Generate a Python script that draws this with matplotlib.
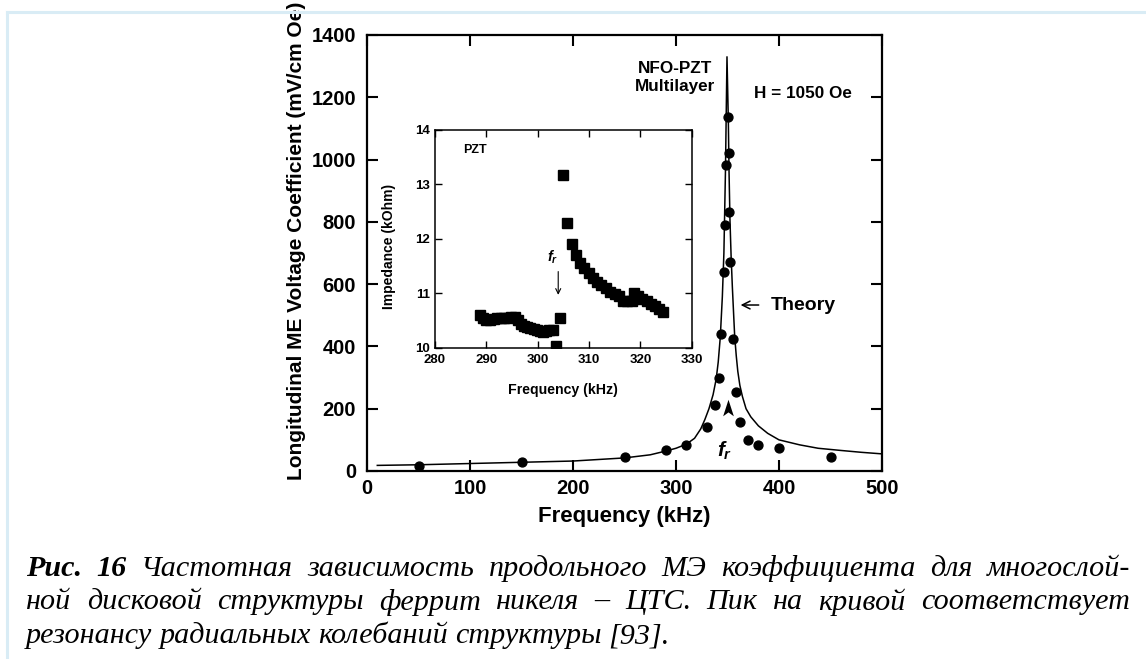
import matplotlib
matplotlib.use("Agg")
import matplotlib.pyplot as plt
from matplotlib.lines import Line2D
from matplotlib.path import Path

plt.rcParams["font.family"] = ["Liberation Sans", "DejaVu Sans"]
plt.rcParams["font.weight"] = "bold"
plt.rcParams["mathtext.fontset"] = "custom"
plt.rcParams["mathtext.it"] = "Liberation Sans:italic"
plt.rcParams["mathtext.rm"] = "Liberation Sans"

# ---- measured ME voltage coefficient (NFO-PZT multilayer, H = 1050 Oe) ----
meas_freq = [50, 150, 250, 290, 310, 330, 338, 341.6, 343.5, 346.8, 348, 349,
             350.3, 351, 351.6, 352.6, 355.2, 357.8, 362, 369.8, 379.5, 400, 450]
meas_me = [17, 30, 46, 66, 82, 140, 211, 300, 440, 639, 790, 983,
           1138, 1020, 832, 671, 424, 255, 157, 100, 82, 75, 46]

# ---- theoretical curve ----
theory_freq = [10, 50, 100, 150, 200, 250, 275, 290, 300, 310, 318, 324, 328,
               332, 336, 339, 341, 343, 345, 346.5, 348, 349.5, 350.8, 351.5,
               352.4, 353.5, 354.7, 356, 357, 358.5, 360, 362, 364.5, 368,
               372.6, 380, 389, 400, 420, 438, 460, 480, 500]
theory_me = [18, 20, 24, 28, 32, 42, 52, 64, 73, 86, 105, 135, 165,
             200, 245, 295, 350, 430, 560, 700, 960, 1330, 1127, 960,
             806, 690, 592, 500, 431, 370, 320, 275, 239, 200,
             174, 145, 121, 100, 84, 73, 66, 60, 55]

# ---- PZT impedance (inset) ----
pzt_freq = [288.8, 289.4, 290.0, 290.7, 291.4, 292.1, 292.8, 293.5, 294.2,
            294.9, 295.5, 296.1, 296.7, 297.3, 297.9, 298.6, 299.2, 299.8,
            300.4, 301.1, 301.7, 302.3, 303.0, 303.6, 304.3,
            305.0, 305.8, 306.6, 307.4, 308.2, 309.0, 309.9, 310.7, 311.6,
            312.4, 313.3, 314.1, 315.0, 315.8, 316.6, 317.4, 318.3, 318.8,
            319.6, 320.4, 321.2, 322.0, 322.8, 323.6, 324.5]
pzt_imp = [10.61, 10.55, 10.51, 10.51, 10.53, 10.54, 10.54, 10.55, 10.54,
           10.56, 10.57, 10.51, 10.44, 10.40, 10.38, 10.36, 10.34, 10.32,
           10.31, 10.28, 10.31, 10.33, 10.32, 10.03, 10.54,
           13.17, 12.30, 11.91, 11.70, 11.56, 11.46, 11.37, 11.28, 11.21,
           11.15, 11.09, 11.03, 10.98, 10.95, 10.86, 10.86, 10.86, 11.00,
           10.95, 10.89, 10.85, 10.80, 10.76, 10.72, 10.66]

main_xticks = [0, 100, 200, 300, 400, 500]
main_yticks = [0, 200, 400, 600, 800, 1000, 1200, 1400]
inset_xticks = [280, 290, 300, 310, 320, 330]
inset_yticks = [10, 11, 12, 13, 14]

caption_lines = [
    "Рис. 16 Частотная зависимость продольного МЭ коэффициента для многослой-",
    "ной  дисковой структуры феррит никеля – ЦТС. Пик на кривой соответствует",
    "резонансу радиальных колебаний структуры [93].",
]

W, H = 1146, 659
fig = plt.figure(figsize=(W / 100, H / 100), dpi=100)
fig.patch.set_facecolor("white")


def fx(px):
    return px / W


def fy(py):
    return 1 - py / H


# page frame lines
frame_col = "#d9ecf5"
fig.add_artist(Line2D([fx(7), fx(W)], [fy(12), fy(12)], color=frame_col, lw=2.2))
fig.add_artist(Line2D([fx(7), fx(7)], [fy(12), fy(H)], color=frame_col, lw=2.2))

# ---- main axes ----
ax = fig.add_axes([fx(367), fy(471), (882 - 367) / W, (471 - 35) / H])
ax.plot(theory_freq, theory_me, color="black", lw=1.1, zorder=2)
ax.plot(meas_freq, meas_me, "o", color="black", ms=6.4, zorder=3)
ax.set_xlim(0, 500)
ax.set_ylim(0, 1400)
ax.set_xticks(main_xticks)
ax.set_yticks(main_yticks)
ax.tick_params(direction="in", length=8, width=1.5, top=True, right=True,
               labelsize=14.5)
ax.tick_params(axis="y", pad=8)
ax.tick_params(axis="x", pad=6)
for s in ax.spines.values():
    s.set_linewidth(1.6)
ax.set_xlabel("Frequency (kHz)", fontsize=16, fontweight="bold")
ax.xaxis.set_label_coords(0.5, -0.08)
ax.set_ylabel("Longitudinal ME Voltage Coefficient (mV/cm Oe)", fontsize=15,
              fontweight="bold")
ax.yaxis.set_label_coords(-0.118, 0.528)

ax.text(299, 1265, "NFO-PZT\nMultilayer", ha="center", va="center",
        fontsize=12.3, fontweight="bold", linespacing=1.25)
ax.text(376, 1212, "H = 1050 Oe", ha="left", va="center", fontsize=12.3,
        fontweight="bold")
ax.annotate("", xy=(360, 533), xytext=(383, 533),
            arrowprops=dict(arrowstyle="->", lw=1.1, color="black",
                            mutation_scale=14))
ax.text(392, 533, "Theory", ha="left", va="center", fontsize=14,
        fontweight="bold")

# resonance marker: notched arrowhead pointing up
head = Path([(0, 1), (-0.55, -0.7), (0, -0.3), (0.55, -0.7), (0, 1)],
            [Path.MOVETO, Path.LINETO, Path.LINETO, Path.LINETO, Path.CLOSEPOLY])
ax.plot([350.5], [200], marker=head, ms=14, color="black", mew=0)
ax.text(347.5, 66, r"$f_r$", ha="center", va="center", fontsize=15)

# ---- inset ----
ins = fig.add_axes([fx(435), fy(347.7), (691.7 - 435) / W, (347.7 - 130) / H])
ins.plot(pzt_freq, pzt_imp, "s", color="black", ms=6.8)
ins.set_xlim(280, 330)
ins.set_ylim(10, 14)
ins.set_xticks(inset_xticks)
ins.set_yticks(inset_yticks)
ins.tick_params(direction="in", length=5, width=1.0, top=True, right=True,
                labelsize=9.5)
ins.tick_params(axis="y", pad=3.8)
ins.tick_params(axis="x", pad=4.2)
for s in ins.spines.values():
    s.set_linewidth(1.1)
ins.set_xlabel("Frequency (kHz)", fontsize=10.2, fontweight="bold")
ins.xaxis.set_label_coords(0.5, -0.16)
ins.set_ylabel("Impedance (kOhm)", fontsize=10, fontweight="bold")
ins.yaxis.set_label_coords(-0.15, 0.465)
ins.text(287.8, 13.63, "PZT", ha="center", va="center", fontsize=9,
         fontweight="bold")
ins.text(303.0, 11.67, r"$f_r$", ha="center", va="center", fontsize=10.5)
ins.annotate("", xy=(304.0, 10.92), xytext=(304.0, 11.45),
             arrowprops=dict(arrowstyle="->", lw=0.8, color="black",
                             mutation_scale=9))

# ---- caption (justified, serif italic) ----
cap_font = ["Liberation Serif", "DejaVu Serif"]
cap_x0, cap_x1 = 26, 1130
cap_y = [569, 602, 636]
renderer = fig.canvas.get_renderer()

# choose a size at which the first line fills the text block naturally
probe = fig.text(0, 0, caption_lines[0], family=cap_font, style="italic",
                 fontsize=20)
natural = probe.get_window_extent(renderer).width
probe.remove()
cap_size = 20 * (cap_x1 - cap_x0) / natural * 0.985

for i, line in enumerate(caption_lines):
    words = line.split()
    arts = []
    for j, w in enumerate(words):
        bold = i == 0 and j < 2
        t = fig.text(0, fy(cap_y[i]), w, family=cap_font, style="italic",
                     weight="bold" if bold else "normal", fontsize=cap_size,
                     va="center", ha="left")
        arts.append(t)
    widths = [a.get_window_extent(renderer).width for a in arts]
    if i < len(caption_lines) - 1:
        gap = (cap_x1 - cap_x0 - sum(widths)) / (len(words) - 1)
    else:
        gap = cap_size * 0.33
    x = cap_x0
    for a, wd in zip(arts, widths):
        a.set_x(fx(x))
        x += wd + gap

fig.savefig("out.png", dpi=100, facecolor="white")
